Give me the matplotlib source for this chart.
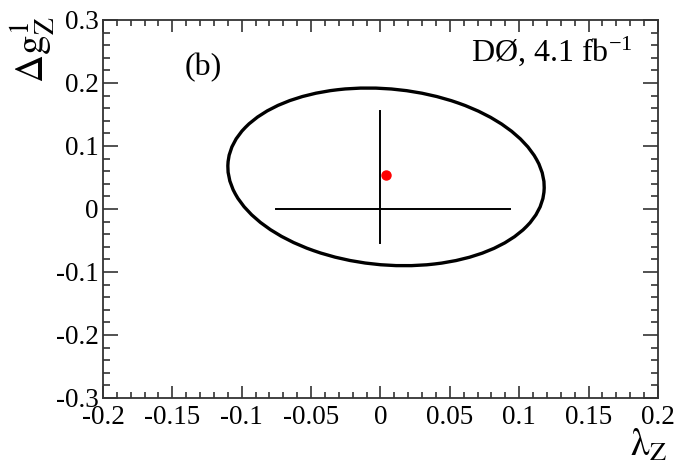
import numpy as np
import matplotlib
matplotlib.use('Agg')
import matplotlib.pyplot as plt
from matplotlib.patches import Ellipse
from matplotlib.ticker import MultipleLocator

# Values
best_fit = (0.004, 0.054)              # red point (lambda_Z, dg1_Z)
contour_center = (0.004, 0.051)        # centre of the 2D contour
contour_sigma = (0.114, 0.141)         # half extents of the contour in x and y
contour_rho = -0.115                   # correlation of the contour
lambda_interval = [-0.075, 0.093]      # 1D interval, drawn at dg1_Z = 0
dg1_interval = [-0.054, 0.156]         # 1D interval, drawn at lambda_Z = 0

x_range = [-0.2, 0.2]
y_range = [-0.3, 0.3]
x_ticks = [-0.2, -0.15, -0.1, -0.05, 0, 0.05, 0.1, 0.15, 0.2]
x_tick_labels = ['-0.2', '-0.15', '-0.1', '-0.05', '0', '0.05', '0.1', '0.15', '0.2']
y_ticks = [-0.3, -0.2, -0.1, 0, 0.1, 0.2, 0.3]
y_tick_labels = ['-0.3', '-0.2', '-0.1', '0', '0.1', '0.2', '0.3']

plt.rcParams['font.family'] = ['Liberation Serif', 'DejaVu Serif']
plt.rcParams['mathtext.fontset'] = 'stix'
plt.rcParams['axes.unicode_minus'] = False

fig = plt.figure(figsize=(6.77, 4.65), dpi=100)
ax = fig.add_axes([0.1521, 0.1441, 0.8198, 0.8129])

# Contour ellipse from the covariance matrix
sx, sy = contour_sigma
cov = np.array([[sx**2, contour_rho*sx*sy], [contour_rho*sx*sy, sy**2]])
vals, vecs = np.linalg.eigh(cov)
angle = np.degrees(np.arctan2(vecs[1, 1], vecs[0, 1]))
ell = Ellipse(contour_center, 2*np.sqrt(vals[1]), 2*np.sqrt(vals[0]), angle=angle,
              fill=False, edgecolor='black', linewidth=2.4)
ax.add_patch(ell)

# 1D intervals
ax.plot(lambda_interval, [0, 0], color='black', linewidth=1.4)
ax.plot([0, 0], dg1_interval, color='black', linewidth=1.4)

# Best fit point
ax.plot(best_fit[0], best_fit[1], 'o', color='red', markersize=6.5)

ax.set_xlim(x_range)
ax.set_ylim(y_range)

ax.set_xticks(x_ticks)
ax.set_xticklabels(x_tick_labels)
ax.set_yticks(y_ticks)
ax.set_yticklabels(y_tick_labels)
ax.xaxis.set_minor_locator(MultipleLocator(0.01))
ax.yaxis.set_minor_locator(MultipleLocator(0.02))

ax.tick_params(axis='both', which='both', direction='in', top=True, right=True,
               labelsize=19.5, width=1.2, color='#333333')
ax.tick_params(axis='x', which='major', length=8.5, pad=5)
ax.tick_params(axis='x', which='minor', length=4.3)
ax.tick_params(axis='y', which='major', length=11, pad=3)
ax.tick_params(axis='y', which='minor', length=5)
for spine in ax.spines.values():
    spine.set_linewidth(1.3)
    spine.set_color('#333333')

# Axis titles, ROOT style at the ends of the axes
fig.text(0.985, 0.004, r'$\mathrm{\lambda_{Z}}$', fontsize=27, ha='right', va='bottom')
fig.text(0.012, 0.965, r'$\mathrm{\Delta g^{1}_{Z}}$', fontsize=28, ha='left', va='top', rotation=90)

# Labels inside the frame
ax.text(0.148, 0.854, '(b)', transform=ax.transAxes, fontsize=23, ha='left', va='baseline')
ax.text(0.955, 0.889, r'DØ, 4.1 fb$^{\mathregular{-1}}$', transform=ax.transAxes, fontsize=23,
        ha='right', va='baseline')

plt.savefig('out.png', dpi=100)
